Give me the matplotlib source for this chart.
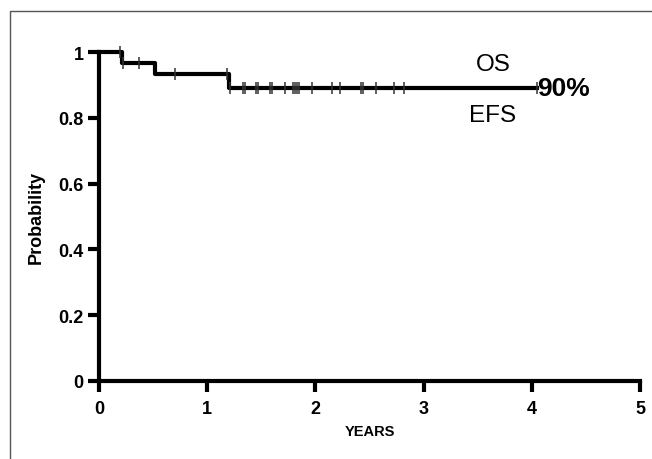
import numpy as np
import matplotlib.pyplot as plt
from matplotlib.patches import Rectangle

plt.rcParams['font.family'] = ['Liberation Sans', 'DejaVu Sans']

# Kaplan-Meier steps (OS and EFS overlap, drawn as one black curve)
os_times = [0, 0.21, 0.52, 1.20, 4.05]
os_surv = [1.0, 0.967, 0.933, 0.891, 0.891]
os_censored = [0.19, 0.225, 0.37, 0.70, 1.18, 1.21, 1.33, 1.35, 1.45, 1.47,
               1.58, 1.60, 1.72, 1.79, 1.81, 1.83, 1.85, 1.97, 2.15, 2.23,
               2.42, 2.44, 2.56, 2.73, 2.82, 4.05]

xticks = [0, 1, 2, 3, 4, 5]
yticks = [0, 0.2, 0.4, 0.6, 0.8, 1.0]
yticklabels = ['0', '0.2', '0.4', '0.6', '0.8', '1']


def step_value(times, surv, t):
    idx = np.searchsorted(times, t, side='right') - 1
    return np.array(surv)[idx]


fig = plt.figure(figsize=(6.52, 4.60), dpi=100)
# thin frame around the figure (left and top visible)
fig.patches.append(Rectangle((10 / 652, -0.1), 1.2, 1 - 12 / 460 + 0.1,
                             transform=fig.transFigure, fill=False,
                             edgecolor='#555555', linewidth=1.0))

ax = fig.add_axes([99 / 652, 1 - 382 / 460, 541 / 652, 329 / 460])

ax.step(os_times, os_surv, where='post', color='black', lw=3.0, zorder=3,
        clip_on=False)
ax.plot(os_censored, step_value(os_times, os_surv, os_censored), ls='none',
        marker='|', ms=8, mew=1.1, color='#333333', zorder=4, clip_on=False)

ax.set_xlim(0, 5)
ax.set_ylim(0, 1)
ax.set_xticks(xticks)
ax.set_xticklabels([str(x) for x in xticks])
ax.set_yticks(yticks)
ax.set_yticklabels(yticklabels)

for side in ['top', 'right']:
    ax.spines[side].set_visible(False)
for side in ['left', 'bottom']:
    ax.spines[side].set_linewidth(3.0)

ax.tick_params(axis='both', width=3.0, length=8, labelsize=13)
ax.tick_params(axis='x', pad=6)
ax.tick_params(axis='y', pad=3)
for lab in ax.get_xticklabels() + ax.get_yticklabels():
    lab.set_fontweight('bold')

ax.set_xlabel('YEARS', fontsize=10.5, fontweight='bold', labelpad=5)
ax.set_ylabel('Probability', fontsize=13, fontweight='bold', labelpad=10)

ax.text(3.64, 0.963, 'OS', fontsize=17.5, ha='center', va='center')
ax.text(3.64, 0.808, 'EFS', fontsize=17.5, ha='center', va='center')
ax.text(4.05, 0.891, '90%', fontsize=19, fontweight='bold', ha='left',
        va='center')

fig.savefig('out.png', dpi=100)
